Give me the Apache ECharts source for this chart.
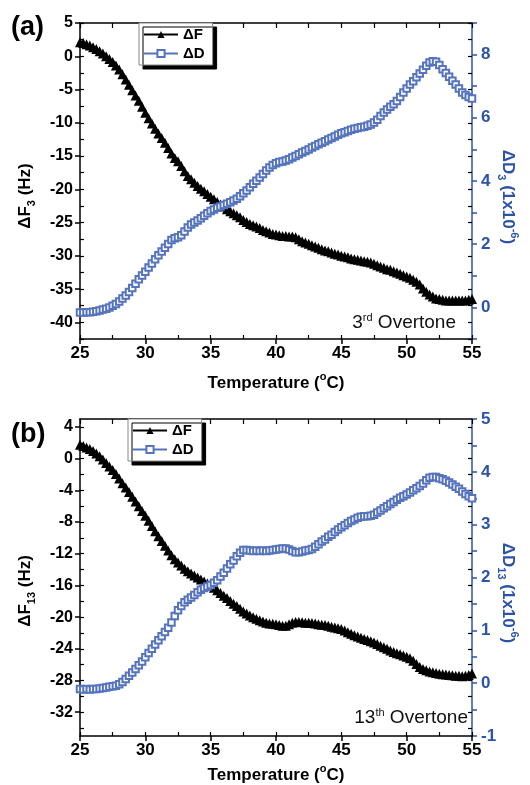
<!DOCTYPE html>
<html><head><meta charset="utf-8">
<script src="https://cdn.jsdelivr.net/npm/echarts@6/dist/echarts.min.js"></script>
<style>html,body{margin:0;padding:0;background:#fff}#c{width:530px;height:785px}</style>
</head><body><div id="c"></div>
<script>
// Temperature (°C)
const temperature = [25,25.25,25.5,25.75,26,26.25,26.5,26.75,27,27.25,27.5,27.75,28,28.25,28.5,28.75,29,29.25,29.5,29.75,30,30.25,30.5,30.75,31,31.25,31.5,31.75,32,32.25,32.5,32.75,33,33.25,33.5,33.75,34,34.25,34.5,34.75,35,35.25,35.5,35.75,36,36.25,36.5,36.75,37,37.25,37.5,37.75,38,38.25,38.5,38.75,39,39.25,39.5,39.75,40,40.25,40.5,40.75,41,41.25,41.5,41.75,42,42.25,42.5,42.75,43,43.25,43.5,43.75,44,44.25,44.5,44.75,45,45.25,45.5,45.75,46,46.25,46.5,46.75,47,47.25,47.5,47.75,48,48.25,48.5,48.75,49,49.25,49.5,49.75,50,50.25,50.5,50.75,51,51.25,51.5,51.75,52,52.25,52.5,52.75,53,53.25,53.5,53.75,54,54.25,54.5,54.75,55];
// (a) 3rd overtone
const dF3 = [2.1,2.0,1.8,1.6,1.35,1.1,0.75,0.4,0.0,-0.4,-0.85,-1.4,-2.0,-2.7,-3.5,-4.3,-5.1,-5.9,-6.7,-7.6,-8.5,-9.3,-10.1,-10.9,-11.6,-12.3,-13.0,-13.8,-14.6,-15.3,-15.8,-16.5,-17.3,-18.0,-18.5,-19.0,-19.5,-19.9,-20.3,-20.7,-21.1,-21.5,-21.9,-22.3,-22.6,-23.0,-23.3,-23.6,-23.9,-24.2,-24.6,-24.9,-25.2,-25.4,-25.6,-25.8,-26.1,-26.3,-26.5,-26.7,-26.8,-26.9,-27.0,-27.0,-27.1,-27.1,-27.2,-27.5,-27.8,-28.0,-28.2,-28.4,-28.6,-28.8,-29.0,-29.2,-29.3,-29.5,-29.7,-29.8,-30.0,-30.1,-30.2,-30.4,-30.5,-30.6,-30.7,-30.8,-30.9,-31.0,-31.2,-31.4,-31.6,-31.8,-32.0,-32.1,-32.3,-32.5,-32.7,-32.9,-33.1,-33.3,-33.6,-33.9,-34.3,-34.9,-35.4,-35.8,-36.1,-36.4,-36.5,-36.6,-36.7,-36.7,-36.7,-36.7,-36.7,-36.7,-36.7,-36.6,-36.5];
const dD3 = [-0.16,-0.16,-0.15,-0.15,-0.14,-0.12,-0.10,-0.07,-0.04,0.0,0.05,0.11,0.19,0.28,0.38,0.49,0.61,0.75,0.89,1.01,1.13,1.26,1.39,1.52,1.65,1.77,1.89,2.01,2.13,2.19,2.22,2.28,2.40,2.53,2.62,2.69,2.75,2.82,2.90,2.98,3.05,3.10,3.15,3.19,3.24,3.28,3.33,3.38,3.44,3.52,3.61,3.70,3.80,3.91,4.01,4.11,4.22,4.33,4.43,4.51,4.56,4.60,4.62,4.65,4.69,4.74,4.79,4.85,4.90,4.95,5.00,5.06,5.11,5.16,5.21,5.26,5.31,5.36,5.41,5.46,5.51,5.54,5.58,5.62,5.65,5.68,5.70,5.72,5.75,5.79,5.85,5.94,6.06,6.17,6.26,6.35,6.43,6.53,6.66,6.80,6.93,7.05,7.16,7.28,7.40,7.52,7.65,7.75,7.79,7.77,7.67,7.54,7.42,7.30,7.17,7.05,6.93,6.80,6.72,6.66,6.61];
// (b) 13th overtone
const dF13 = [1.75,1.6,1.4,1.2,0.95,0.65,0.3,-0.1,-0.55,-1.0,-1.45,-1.95,-2.5,-3.1,-3.65,-4.2,-4.8,-5.4,-6.0,-6.6,-7.2,-7.85,-8.5,-9.15,-9.8,-10.4,-11.0,-11.6,-12.2,-12.7,-13.1,-13.5,-13.9,-14.2,-14.5,-14.75,-15.0,-15.25,-15.5,-15.75,-16.0,-16.3,-16.6,-16.95,-17.3,-17.6,-17.95,-18.3,-18.6,-18.95,-19.3,-19.55,-19.8,-20.0,-20.2,-20.4,-20.55,-20.7,-20.8,-20.85,-20.9,-21.0,-21.1,-21.1,-20.9,-20.7,-20.6,-20.6,-20.65,-20.7,-20.7,-20.75,-20.8,-20.9,-20.95,-21.0,-21.1,-21.2,-21.3,-21.4,-21.5,-21.7,-21.9,-22.1,-22.3,-22.45,-22.6,-22.75,-22.9,-23.05,-23.2,-23.4,-23.6,-23.8,-24.0,-24.2,-24.4,-24.55,-24.7,-24.85,-25.0,-25.2,-25.5,-25.9,-26.3,-26.55,-26.7,-26.85,-26.95,-27.05,-27.15,-27.2,-27.25,-27.3,-27.35,-27.4,-27.4,-27.45,-27.4,-27.3,-27.1];
const dD13 = [-0.11,-0.12,-0.11,-0.12,-0.11,-0.11,-0.10,-0.09,-0.08,-0.07,-0.06,-0.05,-0.02,0.02,0.08,0.14,0.20,0.27,0.34,0.41,0.49,0.57,0.65,0.73,0.81,0.89,0.97,1.05,1.15,1.27,1.38,1.46,1.53,1.58,1.62,1.67,1.72,1.77,1.80,1.83,1.86,1.90,1.95,2.02,2.09,2.17,2.25,2.32,2.40,2.47,2.52,2.52,2.51,2.50,2.51,2.50,2.51,2.50,2.51,2.52,2.53,2.54,2.55,2.55,2.53,2.50,2.48,2.48,2.49,2.51,2.52,2.54,2.58,2.63,2.68,2.72,2.77,2.81,2.86,2.91,2.95,2.99,3.03,3.07,3.10,3.13,3.15,3.16,3.16,3.17,3.19,3.23,3.27,3.31,3.35,3.39,3.43,3.47,3.51,3.54,3.57,3.61,3.65,3.69,3.73,3.78,3.84,3.89,3.90,3.90,3.88,3.86,3.83,3.80,3.76,3.72,3.68,3.63,3.58,3.54,3.50];

// tick labels
const f3Labels = [-40,-35,-30,-25,-20,-15,-10,-5,0,5];
const f3Minor = [-42.5,-40,-37.5,-35,-32.5,-30,-27.5,-25,-22.5,-20,-17.5,-15,-12.5,-10,-7.5,-5,-2.5,0,2.5,5];
const d3Labels = [0,2,4,6,8];
const d3Ticks = [-1,0,1,2,3,4,5,6,7,8,9];
const f13Labels = [-32,-28,-24,-20,-16,-12,-8,-4,0,4];
const f13Minor = [-34,-32,-30,-28,-26,-24,-22,-20,-18,-16,-14,-12,-10,-8,-6,-4,-2,0,2,4];
const d13Labels = [-1,0,1,2,3,4,5];
const d13Ticks = [-1,-0.5,0,0.5,1,1.5,2,2.5,3,3.5,4,4.5,5];

const FONT = "'Liberation Sans', Arial, sans-serif";
const BLUE = '#2c54a6';
const MBLUE = '#5574bd';

function xAxes(g){
  return [
    {gridIndex:g,type:'value',min:25,max:55,interval:5,position:'bottom',
     axisLine:{show:true,onZero:false,lineStyle:{color:'#000',width:1.5}},
     axisTick:{show:true,inside:false,length:5,lineStyle:{color:'#000',width:1.5}},
     axisLabel:{color:'#000',fontFamily:FONT,fontWeight:'bold',fontSize:17,margin:6},
     splitLine:{show:false}},
    {gridIndex:g,type:'value',min:25,max:55,interval:2.5,position:'bottom',
     axisLine:{show:false,onZero:false},axisTick:{show:true,inside:true,length:4,lineStyle:{color:'#000',width:1.2}},
     axisLabel:{show:false},splitLine:{show:false}},
    {gridIndex:g,type:'value',min:25,max:55,interval:2.5,position:'top',
     axisLine:{show:true,onZero:false,lineStyle:{color:'#000',width:1.5}},
     axisTick:{show:true,inside:true,length:5,lineStyle:{color:'#000',width:1.2}},
     axisLabel:{show:false},splitLine:{show:false}}
  ];
}
function yAxes(g, fmin, fmax, fLab, fMin, dmin, dmax, dLab, dTicks){
  return [
    {gridIndex:g,type:'value',min:fmin,max:fmax,position:'left',
     axisLine:{show:true,onZero:false,lineStyle:{color:'#000',width:1.5}},
     axisTick:{show:true,inside:false,length:5,customValues:fLab,lineStyle:{color:'#000',width:1.5}},
     axisLabel:{customValues:fLab,color:'#000',fontFamily:FONT,fontWeight:'bold',fontSize:16,margin:7},
     splitLine:{show:false}},
    {gridIndex:g,type:'value',min:fmin,max:fmax,position:'left',
     axisLine:{show:false,onZero:false},axisTick:{show:true,inside:true,length:4,customValues:fMin,lineStyle:{color:'#000',width:1.2}},
     axisLabel:{show:false},splitLine:{show:false}},
    {gridIndex:g,type:'value',min:dmin,max:dmax,position:'right',
     axisLine:{show:true,onZero:false,lineStyle:{color:BLUE,width:1.5}},
     axisTick:{show:true,inside:false,length:5,customValues:dTicks,lineStyle:{color:BLUE,width:1.5}},
     axisLabel:{customValues:dLab,color:BLUE,fontFamily:FONT,fontWeight:'bold',fontSize:17,margin:9},
     splitLine:{show:false}},
    {gridIndex:g,type:'value',min:fmin,max:fmax,position:'right',
     axisLine:{show:false,onZero:false},axisTick:{show:true,inside:true,length:4,customValues:fMin,lineStyle:{color:'#000',width:1.2}},
     axisLabel:{show:false},splitLine:{show:false}}
  ];
}
function pairs(vals){ return temperature.map((t,i)=>[t, vals[i]]); }
function fSeries(vals, xi, yi){
  return {name:'ΔF',type:'line',xAxisIndex:xi,yAxisIndex:yi,data:pairs(vals),
    symbol:'triangle',symbolSize:10,showSymbol:true,
    itemStyle:{color:'#000'},lineStyle:{color:'#000',width:1},z:2};
}
function dSeries(vals, xi, yi){
  return {name:'ΔD',type:'line',xAxisIndex:xi,yAxisIndex:yi,data:pairs(vals),
    symbol:'emptyRect',symbolSize:6.5,showSymbol:true,
    itemStyle:{color:MBLUE,borderWidth:1},lineStyle:{color:MBLUE,width:0.8},z:3};
}
function legendAt(left, top){
  return {left:left,top:top,orient:'vertical',data:['ΔF','ΔD'],
    backgroundColor:'#fff',borderColor:'#888',borderWidth:1,padding:[4,8,4,4],itemGap:4,
    itemWidth:34,itemHeight:9,selectedMode:false,
    textStyle:{fontFamily:FONT,fontWeight:'bold',fontSize:15,color:'#000'},
    shadowColor:'#000',shadowOffsetX:4,shadowOffsetY:4,shadowBlur:0};
}
const richBase = {
  b:{fontFamily:FONT,fontWeight:'bold',fontSize:17,lineHeight:24},
  sub:{fontFamily:FONT,fontWeight:'bold',fontSize:11,lineHeight:12,verticalAlign:'bottom'},
  sup:{fontFamily:FONT,fontWeight:'bold',fontSize:11,lineHeight:12,verticalAlign:'top'}
};
function richColored(color){
  const r = {};
  for (const k in richBase){ r[k] = Object.assign({}, richBase[k], {color:color, fill:color}); }
  return r;
}
function label(x,y,text,rot,color){
  return {type:'text',x:x,y:y,rotation:rot,z:100,
    style:{text:text,align:'center',verticalAlign:'middle',fill:color,rich:richColored(color),
      fontFamily:FONT,fontWeight:'bold',fontSize:17}};
}
function plainText(x,y,text,size){
  return {type:'text',x:x,y:y,z:100,
    style:{text:text,align:'right',verticalAlign:'middle',fill:'#111',
      rich:{n:{fontFamily:FONT,fontSize:size,lineHeight:22,color:'#111'},
            s:{fontFamily:FONT,fontSize:11,lineHeight:12,verticalAlign:'top',color:'#111'}}}};
}

const option = {
  animation:false,
  backgroundColor:'#fff',
  grid:[{left:80,top:23,width:392,height:316},{left:80,top:419,width:392,height:317}],
  xAxis: xAxes(0).concat(xAxes(1)),
  yAxis: yAxes(0,-42.5,5,f3Labels,f3Minor,-1,9,d3Labels,d3Ticks)
         .concat(yAxes(1,-35,5,f13Labels,f13Minor,-1,5,d13Labels,d13Ticks)),
  legend:[legendAt(139,23),legendAt(128,419)],
  series:[
    fSeries(dF3,0,0), dSeries(dD3,0,2),
    fSeries(dF13,3,4), dSeries(dD13,3,6)
  ],
  graphic:[
    {type:'text',x:11,y:28,z:100,style:{text:'(a)',fontFamily:FONT,fontWeight:'bold',fontSize:27,fill:'#000',verticalAlign:'middle'}},
    {type:'text',x:11,y:435,z:100,style:{text:'(b)',fontFamily:FONT,fontWeight:'bold',fontSize:27,fill:'#000',verticalAlign:'middle'}},
    label(25,196,'{b|ΔF}{sub|3}{b| (Hz)}',Math.PI/2,'#000'),
    label(25,591,'{b|ΔF}{sub|13}{b| (Hz)}',Math.PI/2,'#000'),
    label(508,197,'{b|ΔD}{sub|3}{b| (1x10}{sup|-6}{b|)}',-Math.PI/2,BLUE),
    label(508,593,'{b|ΔD}{sub|13}{b| (1x10}{sup|-6}{b|)}',-Math.PI/2,BLUE),
    label(276,383,'{b|Temperature (}{sup|o}{b|C)}',0,'#000'),
    label(276,775,'{b|Temperature (}{sup|o}{b|C)}',0,'#000'),
    plainText(456,323,'{n|3}{s|rd}{n| Overtone}',19),
    plainText(468,718,'{n|13}{s|th}{n| Overtone}',19)
  ]
};
const chart = echarts.init(document.getElementById('c'),null,{renderer:'canvas'});
chart.setOption(option);
</script></body></html>
